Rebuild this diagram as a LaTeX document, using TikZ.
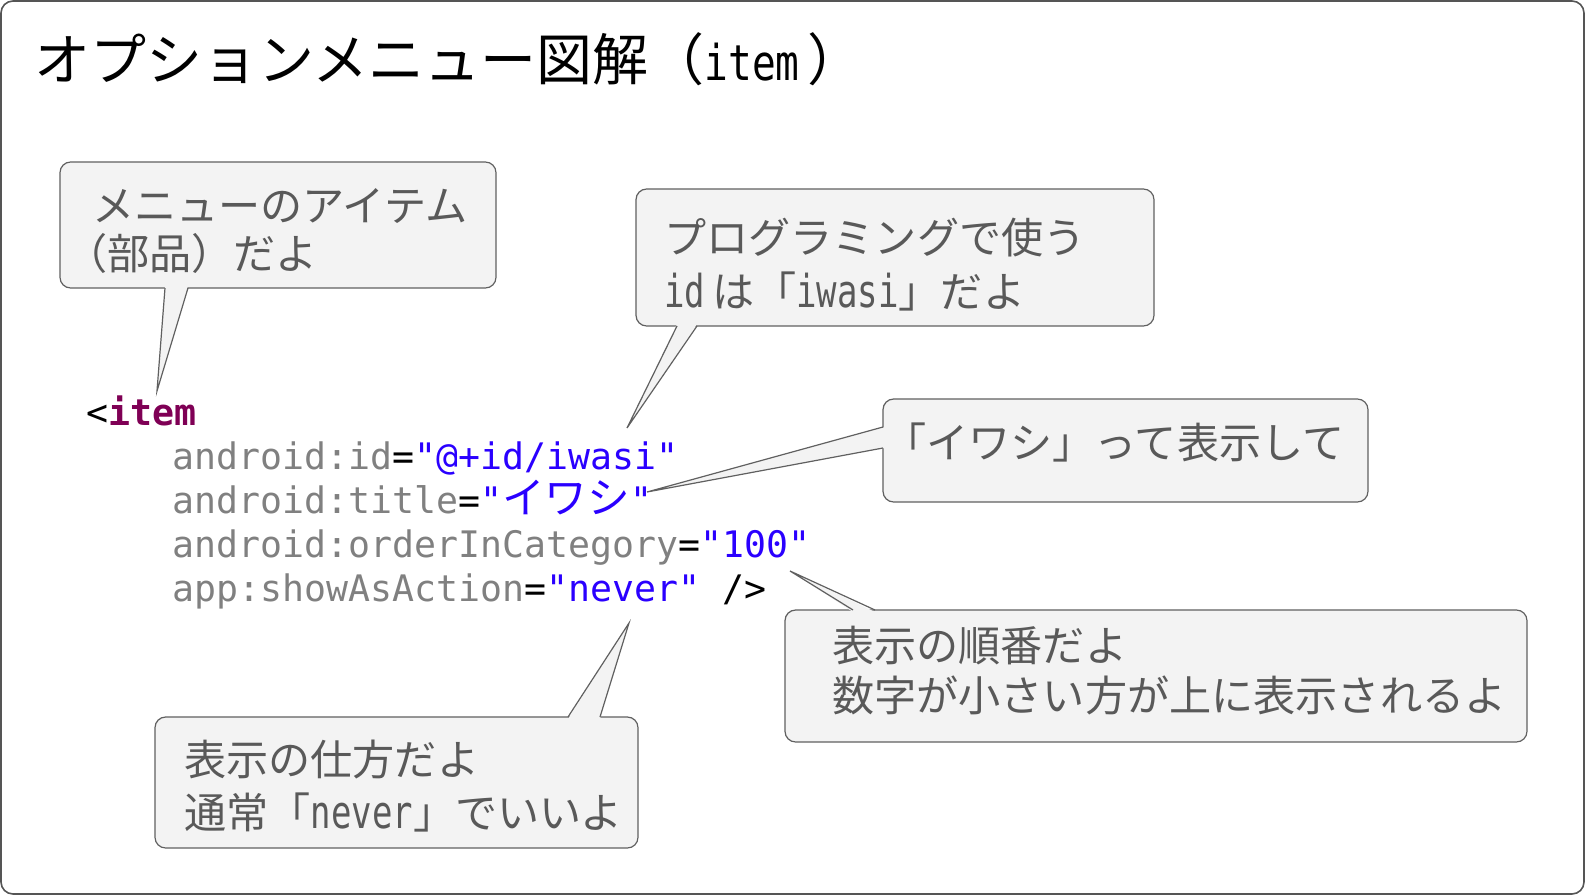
\documentclass[tikz,border=0pt]{standalone}
\usepackage{fontspec}
\newfontfamily\cjk{Noto Sans CJK JP}
\newfontfamily\mono{DejaVu Sans Mono}
\newfontfamily\monon[FakeStretch=0.75]{DejaVu Sans Mono}
\newfontfamily\monot[FakeStretch=0.8]{DejaVu Sans Mono}
\definecolor{framecol}{HTML}{555555}
\definecolor{calfill}{HTML}{F3F3F3}
\definecolor{calline}{HTML}{606060}
\definecolor{caltext}{HTML}{595959}
\definecolor{kwcol}{HTML}{7F0055}
\definecolor{attrcol}{HTML}{808080}
\definecolor{strcol}{HTML}{2A00FF}
\tikzset{
  calbox/.style={draw=calline, fill=calfill, line width=0.9pt, rounded corners=8pt},
  calptr/.style={draw=calline, line width=0.9pt, line join=miter},
  calfillptr/.style={fill=calfill},
  caltxt/.style={anchor=base west, inner sep=0pt, text=caltext, font=\cjk\fontsize{31.6}{37}\selectfont},
  codetxt/.style={anchor=base west, inner sep=0pt, font=\mono\fontsize{27.4}{33}\selectfont},
}
\newcommand{\lm}[1]{{\monon\fontsize{34}{36}\selectfont #1}}
\newcommand{\cjkcode}[1]{{\cjk\fontsize{32}{33}\selectfont #1}}
\begin{document}
\begin{tikzpicture}[x=0.75pt,y=-0.75pt]
\useasboundingbox (0,0) rectangle (1585,895);
\draw[framecol, line width=1.2pt, rounded corners=9pt] (1,1) rectangle (1584,894);

% title
\node[anchor=base west, inner sep=0pt, font=\cjk\fontsize{42}{50}\selectfont] (title) at (34,81)
  {オプションメニュー図解（{\monot\fontsize{37}{40}\selectfont item}\hspace{6pt}）};

% code
\node[codetxt] (c0) at (86,425) {<\textcolor{kwcol}{\bfseries item}};
\node[codetxt] (c1) at (172,469) {\textcolor{attrcol}{android:id}=\textcolor{strcol}{"@+id/iwasi"}};
\node[codetxt] (c2) at (172,513) {\textcolor{attrcol}{android:title}=\textcolor{strcol}{"\cjkcode{イワシ}"}};
\node[codetxt] (c3) at (172,557) {\textcolor{attrcol}{android:orderInCategory}=\textcolor{strcol}{"100"}};
\node[codetxt] (c4) at (172,601) {\textcolor{attrcol}{app:showAsAction}=\textcolor{strcol}{"never"} />};

% callout A
\draw[calbox] (60,162) rectangle (496,288);
\coordinate (tipA) at (157,391);
\coordinate (a1) at (165,288); \coordinate (a2) at (188,288);
\fill[calfillptr] (165,286) -- (tipA) -- (188,286) -- cycle;
\draw[calptr] (a1) -- (tipA) -- (a2);
\node[caltxt] (tA1) at (92,222) {メニューのアイテム};
\node[caltxt] (tA2) at (65,269) {（部品）だよ};

% callout B
\draw[calbox] (636,189) rectangle (1154,326);
\coordinate (tipB) at (627,428);
\coordinate (b1) at (677,326); \coordinate (b2) at (697,326);
\fill[calfillptr] (677,324) -- (tipB) -- (697,324) -- cycle;
\draw[calptr] (b1) -- (tipB) -- (b2);
\node[caltxt] (tB1) at (664,253) {プログラミングで使う};
\node[caltxt] (tB2) at (664,307) {\lm{id}\,は「\lm{iwasi}」だよ};

% callout C
\draw[calbox] (883,399) rectangle (1368,502);
\coordinate (tipC) at (647,492);
\coordinate (cc1) at (883,427); \coordinate (cc2) at (883,448);
\fill[calfillptr] (885,427) -- (tipC) -- (885,448) -- cycle;
\draw[calptr] (cc1) -- (tipC) -- (cc2);
\node[caltxt] (tC1) at (884,458) {「イワシ」って表示して};

% callout D
\draw[calbox] (785,610) rectangle (1527,742);
\coordinate (tipD) at (790,571);
\coordinate (d1) at (853,610); \coordinate (d2) at (875,610);
\fill[calfillptr] (853,612) -- (tipD) -- (875,612) -- cycle;
\draw[calptr] (d1) -- (tipD) -- (d2);
\node[caltxt] (tD1) at (832,661) {表示の順番だよ};
\node[caltxt] (tD2) at (832,711) {数字が小さい方が上に表示されるよ};

% callout E
\draw[calbox] (155,717) rectangle (638,848);
\coordinate (tipE) at (629,623);
\coordinate (e1) at (568,717); \coordinate (e2) at (600,717);
\fill[calfillptr] (568,719) -- (tipE) -- (600,719) -- cycle;
\draw[calptr] (e1) -- (tipE) -- (e2);
\node[caltxt] (tE1) at (184,775) {表示の仕方だよ};
\node[caltxt] (tE2) at (184,828) {通常「\lm{never}」でいいよ};
\end{tikzpicture}
\end{document}
